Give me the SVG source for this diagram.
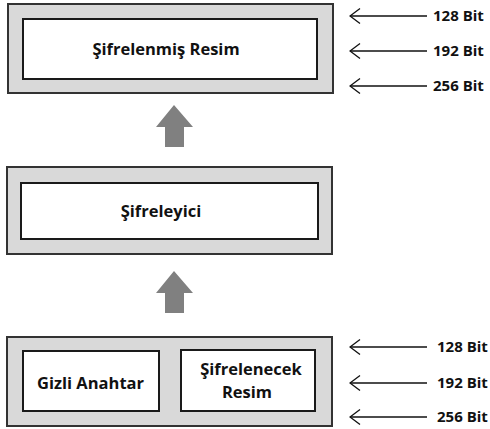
<svg xmlns="http://www.w3.org/2000/svg" width="490" height="429" viewBox="0 0 490 429">
<defs>
<style>
.outer{fill:#d9d9d9;stroke:#333;stroke-width:2}
.inner{fill:#fff;stroke:#1a1a1a;stroke-width:2}
.t{font-family:"Open Sans","Liberation Sans",sans-serif;font-weight:700;font-size:16.5px;fill:#111;text-anchor:middle}
.b{font-family:"Open Sans","Liberation Sans",sans-serif;font-weight:700;font-size:15px;fill:#111}
.up{fill:#808080}
.ln{stroke:#111;stroke-width:1.3;fill:none}
</style>
<marker id="ah" markerWidth="12" markerHeight="18" refX="11" refY="8" orient="auto" markerUnits="userSpaceOnUse">
<path d="M1,0.5 L11,8 L1,15.5" fill="none" stroke="#111" stroke-width="1.3"/>
</marker>
</defs>
<rect width="490" height="429" fill="#fff"/>
<g id="sifrelenmis-resim">
<rect class="outer" x="8" y="4" width="325" height="89"/>
<rect class="inner" x="23" y="19" width="294" height="60"/>
<text class="t" x="166" y="55">Şifrelenmiş Resim</text>
</g>
<g id="sifreleyici">
<rect class="outer" x="7" y="167" width="325" height="87"/>
<rect class="inner" x="21" y="183" width="297" height="56"/>
<text class="t" x="161" y="217">Şifreleyici</text>
</g>
<g id="girdi">
<rect class="outer" x="7" y="337" width="325" height="89"/>
</g>
<g id="gizli-anahtar">
<rect class="inner" x="23" y="351" width="136" height="60"/>
<text class="t" x="90.5" y="389">Gizli Anahtar</text>
</g>
<g id="sifrelenecek-resim">
<rect class="inner" x="181" y="350" width="134" height="61"/>
<text class="t" x="251" y="375">Şifrelenecek</text>
<text class="t" x="247" y="398">Resim</text>
</g>
<g id="connectors">
<path class="up" d="M174,105 L193,127 L184,127 L184,147 L165,147 L165,127 L156,127 Z"/>
<path class="up" d="M174,271 L193,293 L184,293 L184,313 L165,313 L165,293 L156,293 Z"/>
<line class="ln" x1="427" y1="16" x2="350" y2="16" marker-end="url(#ah)"/>
<line class="ln" x1="427" y1="51" x2="350" y2="51" marker-end="url(#ah)"/>
<line class="ln" x1="427" y1="86" x2="350" y2="86" marker-end="url(#ah)"/>
<line class="ln" x1="427" y1="347" x2="350" y2="347" marker-end="url(#ah)"/>
<line class="ln" x1="427" y1="383" x2="350" y2="383" marker-end="url(#ah)"/>
<line class="ln" x1="427" y1="417" x2="350" y2="417" marker-end="url(#ah)"/>
</g>
<g id="labels">
<text class="b" x="433" y="21">128 Bit</text>
<text class="b" x="433" y="56">192 Bit</text>
<text class="b" x="433" y="91">256 Bit</text>
<text class="b" x="437" y="352">128 Bit</text>
<text class="b" x="437" y="388">192 Bit</text>
<text class="b" x="437" y="422">256 Bit</text>
</g>
</svg>
